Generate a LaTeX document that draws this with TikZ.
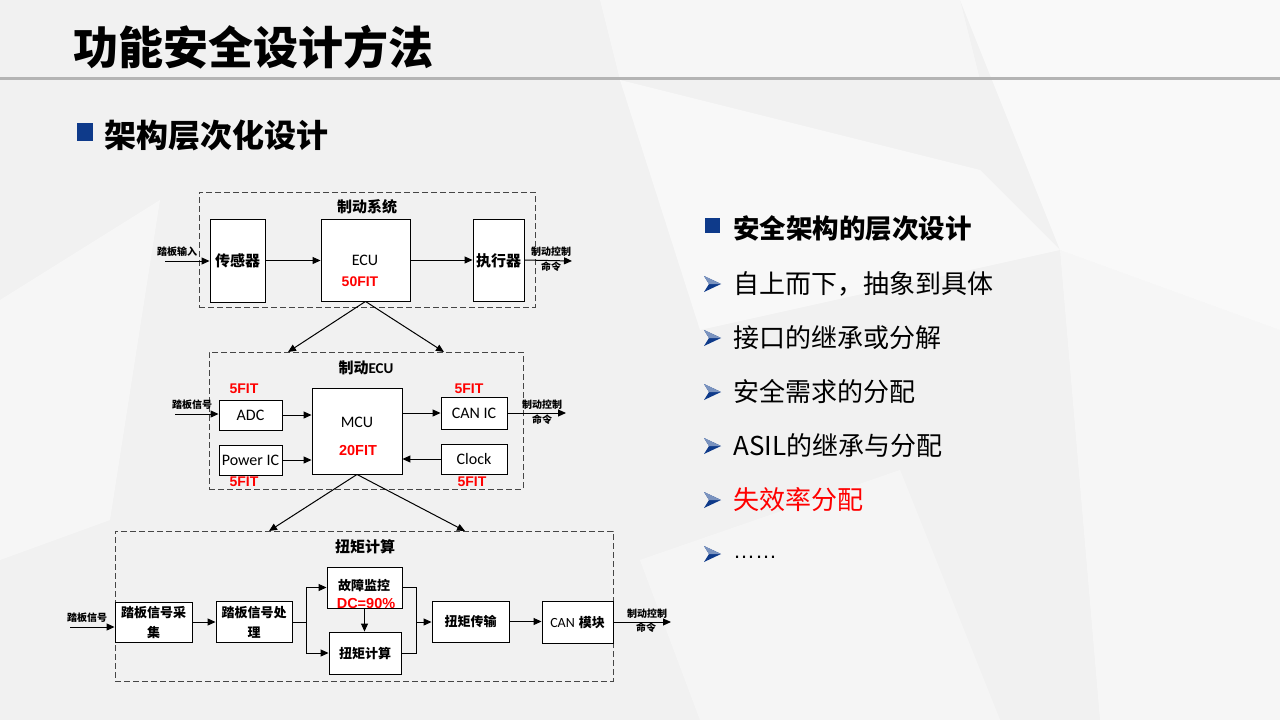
\documentclass[tikz,border=0pt]{standalone}
\usepackage{fontspec}
\usetikzlibrary{arrows.meta}
\setmainfont{Liberation Sans}
\newfontfamily\cjk{Noto Sans CJK SC}
\newfontfamily\calfont{Carlito}
\definecolor{bgc}{RGB}{241,241,241}
\definecolor{navy}{RGB}{14,58,138}
\definecolor{dashc}{RGB}{70,70,70}
\definecolor{rulec}{RGB}{180,180,180}
\tikzset{
  dbox/.style={draw=dashc, dash pattern=on 6pt off 3pt, line width=1pt, inner sep=0},
  blk/.style={draw=black, fill=white, line width=0.9pt, inner sep=0},
  arr/.style={-{Triangle[length=8pt,width=7pt]}, line width=1pt},
  ln/.style={line width=1pt},
  ttl/.style={font=\cjk\bfseries\fontsize{15}{17}\selectfont, inner sep=0},
  blab/.style={font=\cjk\bfseries\fontsize{13}{20}\selectfont, inner sep=0, align=center},
  clab/.style={font=\calfont\fontsize{16}{17}\selectfont, inner sep=0},
  small/.style={font=\cjk\bfseries\fontsize{10}{10}\selectfont, inner sep=0},
  fitlab/.style={text=red, font=\bfseries\fontsize{14}{15}\selectfont, inner sep=0},
  item/.style={font=\cjk\fontsize{26}{28}\selectfont, inner sep=0, anchor=west}
}
\begin{document}
\begin{tikzpicture}[x=1pt,y=-1pt]
\useasboundingbox (0,0) rectangle (1280,720);
% background
\fill[bgc] (0,0) rectangle (1280,720);
\fill[white,opacity=0.6] (960,0) -- (1280,0) -- (1280,330) -- (1060,250) -- cycle;
\fill[white,opacity=0.5] (620,80) -- (980,170) -- (1060,250) -- (700,330) -- cycle;
\fill[white,opacity=0.4] (1060,250) -- (1280,330) -- (1280,720) -- (1100,720) -- cycle;
\fill[white,opacity=0.4] (0,300) -- (160,200) -- (110,520) -- (0,560) -- cycle;
\fill[white,opacity=0.35] (640,560) -- (900,470) -- (1000,720) -- (700,720) -- cycle;
\fill[white,opacity=0.4] (600,0) -- (960,0) -- (980,80) -- (620,80) -- cycle;
% title
\node[anchor=west, inner sep=0, font=\cjk\bfseries\fontsize{45}{50}\selectfont] (title) at (73,47) {功能安全设计方法};
\draw[line width=3pt, draw=rulec] (0,78) -- (1280,78);
\fill[navy] (77,123) rectangle (93,141);
\node[anchor=west, inner sep=0, font=\cjk\bfseries\fontsize{32}{34}\selectfont] (sub) at (104,135) {架构层次化设计};
% right list
\fill[navy] (705,218) rectangle (720,233);
\node[item, font=\cjk\bfseries\fontsize{26.5}{28}\selectfont] (h1) at (733,228) {安全架构的层次设计};
\foreach \yy in {284,338,392,446,500,554}{
  \fill[navy] (704,\yy-8) -- (721,\yy) -- (704,\yy+8) -- (709,\yy) -- cycle;
  \fill[navy!55] (704,\yy-8) -- (721,\yy) -- (709,\yy) -- cycle;
}
\node[item] (i1) at (733,284) {自上而下，抽象到具体};
\node[item] (i2) at (733,338) {接口的继承或分解};
\node[item] (i3) at (733,392) {安全需求的分配};
\node[item] (i4) at (733,446) {ASIL的继承与分配};
\node[item, text=red] (i5) at (733,500) {失效率分配};
\node[item, font=\fontsize{22}{24}\selectfont] (i6) at (733,557) {……};

% ===== level 1 =====
\node[dbox, minimum width=336pt, minimum height=115pt] (sys) at (367,249.5) {};
\node[ttl] (systtl) at (367,207) {制动系统};
\node[blk, minimum width=55pt, minimum height=83pt] (sensor) at (237.5,260.5) {};
\node[ttl] (sensortxt) at (237.5,261) {传感器};
\node[blk, minimum width=89pt, minimum height=82pt] (ecu) at (365.5,260) {};
\node[clab] (ecutxt) at (365,260) {ECU};
\node[fitlab] (ecufit) at (360,282) {50FIT};
\node[blk, minimum width=51pt, minimum height=82pt] (act) at (498.5,260) {};
\node[ttl] (acttxt) at (498.5,261) {执行器};
\coordinate (in1) at (165,261);
\coordinate (out1) at (572,261);
\node[small] (in1lab) at (177,252) {踏板输入};
\node[small] (out1a) at (551,252) {制动控制};
\node[small] (out1b) at (551,267) {命令};
\draw[arr] (in1) -- (in1 -| sensor.west);
\draw[arr] (sensor.east) -- (sensor.east -| ecu.west);
\draw[arr] (ecu.east) -- (ecu.east -| act.west);
\draw[arr] (act.east) -- (out1);
\coordinate (d1l) at (288,352);
\coordinate (d1r) at (444,352);
\draw[arr] (ecu.south) -- (d1l);
\draw[arr] (ecu.south) -- (d1r);

% ===== level 2 =====
\node[dbox, minimum width=314pt, minimum height=137pt] (ecub) at (366,420.5) {};
\node[ttl] (ecuttl) at (366,368) {制动{\calfont ECU}};
\node[blk, minimum width=63pt, minimum height=30pt] (adc) at (250.5,415) {};
\node[clab] (adctxt) at (250.5,415) {ADC};
\node[blk, minimum width=63pt, minimum height=30pt] (pwr) at (250.5,460) {};
\node[clab] (pwrtxt) at (250.5,460) {Power IC};
\node[blk, minimum width=90pt, minimum height=86pt] (mcu) at (357,431) {};
\node[clab] (mcutxt) at (357,422) {MCU};
\node[fitlab, font=\bfseries\fontsize{14.5}{15}\selectfont] (mcufit) at (358,451) {20FIT};
\node[blk, minimum width=66pt, minimum height=32pt] (can) at (474,413) {};
\node[clab] (cantxt) at (474,413) {CAN IC};
\node[blk, minimum width=66pt, minimum height=30pt] (clk) at (474,459) {};
\node[clab] (clktxt) at (474,459) {Clock};
\node[fitlab] (adcfit) at (244,389) {5FIT};
\node[fitlab] (canfit) at (469,389) {5FIT};
\node[fitlab] (pwrfit) at (244,482) {5FIT};
\node[fitlab] (clkfit) at (472,482) {5FIT};
\coordinate (in2) at (175,414);
\coordinate (out2) at (566,413);
\node[small] (in2lab) at (192,405) {踏板信号};
\node[small] (out2a) at (542,405) {制动控制};
\node[small] (out2b) at (542,420) {命令};
\draw[arr] (in2) -- (in2 -| adc.west);
\draw[arr] (adc.east) -- (adc.east -| mcu.west);
\draw[arr] (pwr.east) -- (pwr.east -| mcu.west);
\draw[arr] (mcu.east |- can.west) -- (can.west);
\draw[arr] (clk.west) -- (clk.west -| mcu.east);
\draw[arr] (can.east) -- (out2);
\coordinate (d2l) at (269,531);
\coordinate (d2r) at (465,531);
\draw[arr] (mcu.south) -- (d2l);
\draw[arr] (mcu.south) -- (d2r);

% ===== level 3 =====
\node[dbox, minimum width=498pt, minimum height=150pt] (tq) at (364,606) {};
\node[ttl] (tqttl) at (365,547) {扭矩计算};
\node[blk, minimum width=77pt, minimum height=40pt] (coll) at (153.5,622) {};
\node[blab] (colltxt) at (153.5,623) {踏板信号采\\集};
\node[blk, minimum width=76pt, minimum height=41pt] (proc) at (254,621.5) {};
\node[blab] (proctxt) at (254,622) {踏板信号处\\理};
\node[blk, minimum width=75pt, minimum height=41pt] (fault) at (364.5,587.5) {};
\node[blab] (faulttxt) at (364,585) {故障监控};
\node[fitlab, font=\bfseries\fontsize{14.5}{15}\selectfont] (dc) at (366,604) {DC=90\%};
\node[blk, minimum width=72pt, minimum height=42pt] (tcalc) at (365,653) {};
\node[blab] (tcalctxt) at (365,654) {扭矩计算};
\node[blk, minimum width=77pt, minimum height=41pt] (ttx) at (470.5,621.5) {};
\node[blab] (ttxtxt) at (470.5,622) {扭矩传输};
\node[blk, minimum width=71pt, minimum height=42pt] (canm) at (577.5,622) {};
\node[inner sep=0, font=\fontsize{14}{15}\selectfont] (canmtxt) at (577.5,623) {{\calfont CAN} {\cjk\bfseries\fontsize{13}{15}\selectfont 模块}};
\coordinate (in3) at (70,627);
\coordinate (out3) at (671,622);
\node[small] (in3lab) at (87,618) {踏板信号};
\node[small] (out3a) at (647,614) {制动控制};
\node[small] (out3b) at (646,628) {命令};
\draw[arr] (in3) -- (in3 -| coll.west);
\draw[arr] (coll.east) -- (coll.east -| proc.west);
\coordinate (br) at (306,622);
\draw[ln] (proc.east |- br) -- (br);
\draw[arr] (br) |- (fault.west);
\draw[arr] (br) |- (tcalc.west);
\draw[arr] (fault.south) -- (fault.south |- tcalc.north);
\coordinate (mg) at (416,622);
\draw[ln] (fault.east) -| (mg);
\draw[ln] (tcalc.east) -| (mg);
\draw[arr] (mg) -- (mg -| ttx.west);
\draw[arr] (ttx.east) -- (ttx.east -| canm.west);
\draw[arr] (canm.east) -- (out3);
\end{tikzpicture}
\end{document}
